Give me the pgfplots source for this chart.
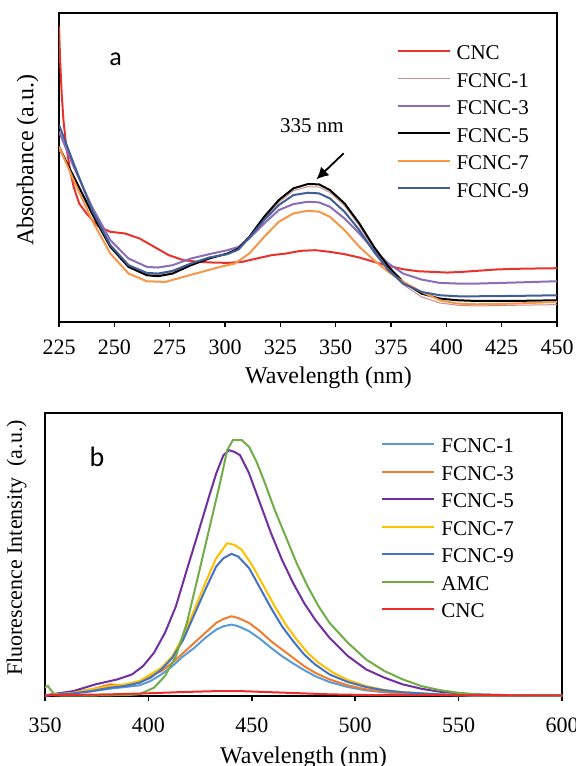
\documentclass[border=0pt]{standalone}
\usepackage{fontspec}
\setmainfont{Liberation Serif}
\newfontfamily\calibri{Carlito}
\usepackage{pgfplots}
\pgfplotsset{compat=1.18}
\usetikzlibrary{arrows.meta}

% panel a colours
\definecolor{cncA}{HTML}{E8322C}
\definecolor{f1A}{HTML}{C9908E}
\definecolor{f3A}{HTML}{8B6DB8}
\definecolor{f7A}{HTML}{F79646}
\definecolor{f9A}{HTML}{3F5E95}
% panel b colours
\definecolor{f1B}{HTML}{5B9BD5}
\definecolor{f3B}{HTML}{ED7D31}
\definecolor{f5B}{HTML}{7030A0}
\definecolor{f7B}{HTML}{FFC000}
\definecolor{f9B}{HTML}{4472C4}
\definecolor{amcB}{HTML}{70AD47}
\definecolor{cncB}{HTML}{EE2C2C}

\pgfplotsset{
  spectrum/.style={
    scale only axis,
    ytick=\empty,
    tick align=outside,
    xtick pos=lower,
    major tick length=2.5pt,
    every tick/.style={black, line width=0.8pt},
    axis line style={line width=1pt},
    /pgf/number format/assume math mode=true,
    xticklabel style={font=\fontsize{11}{13}\selectfont},
    xlabel style={font=\fontsize{12}{14}\selectfont},
    ylabel style={font=\fontsize{12}{14}\selectfont},
    legend cell align=left,
    legend image code/.code={\draw[##1] (0pt,3.3pt) -- (26pt,3.3pt);},
    legend style={draw=none, fill=none, inner sep=0pt, anchor=north west,
      font=\fontsize{10.5}{12}\selectfont, column sep=3pt,
      nodes={inner sep=0pt, text height=8pt, text depth=5.75pt}},
    every axis plot/.append style={line width=1pt},
  },
}

\begin{document}
\begin{tikzpicture}
\useasboundingbox (0,0) rectangle (287.5pt,-383pt);

% ---------- panel a: absorbance ----------
\begin{axis}[spectrum,
  at={(29.5pt,-6.5pt)}, anchor=north west,
  width=249pt, height=154.5pt,
  xmin=225, xmax=450, ymin=0, ymax=925,
  xtick={225,250,...,450},
  xticklabel style={yshift=-2.75pt},
  xlabel={Wavelength (nm)},
  xlabel style={at={(axis description cs:0.541,0)}, anchor=center, yshift=-28pt},
  ylabel={Absorbance (a.u.)},
  ylabel style={at={(axis description cs:-0.0633,0.524)}, anchor=center},
  legend style={at={(axis description cs:0.677,0.902)}},
]
\addplot[cncA] coordinates {
(225,885) (225.5,785) (226.2,685) (227,605) (228.3,525) (230,455) (231.6,405)
(234.1,355) (237.4,325) (241.5,295) (243.2,285) (248.2,270) (254.8,265)
(261.4,250) (268,225) (274.6,200) (281.3,185) (287.9,180) (294.5,178)
(301.1,177) (307.7,180) (314.3,190) (321,200) (327.6,205) (334.2,213)
(340.8,215) (347.4,210) (354,203) (360.7,193) (367.3,180) (373.9,168)
(380.5,158) (387.1,152) (393.8,150) (400.4,148) (407,150) (413.6,153)
(421.9,157) (430.2,159) (438.4,160) (450,161)};
\addlegendentry{CNC}
\addplot[f1A, line width=0.5pt] coordinates {
(225,515) (231.6,440) (239.9,330) (248.2,232) (256.4,172) (264.7,145)
(269.7,142) (276.3,150) (284.6,172) (292.8,190) (301.1,205) (306.1,220)
(311,253) (317.7,310) (324.3,358) (330.9,393) (337.5,405) (342.5,404)
(347.4,388) (354,348) (360.7,288) (367.3,218) (373.9,158) (380.5,112)
(388.8,75) (397.1,57) (405.3,50) (413.6,48) (430.2,50) (450,52)};
\addlegendentry{FCNC-1}
\addplot[f3A] coordinates {
(225,570) (231.6,465) (239.9,345) (248.2,245) (256.4,190) (264.7,165)
(269.7,163) (276.3,170) (284.6,190) (292.8,203) (301.1,215) (306.1,225)
(311,250) (317.7,295) (324.3,335) (330.9,353) (337.5,360) (342.5,358)
(347.4,345) (354,310) (360.7,265) (367.3,215) (373.9,175) (380.5,145)
(388.8,127) (397.1,117) (405.3,115) (413.6,115) (430.2,118) (450,122)};
\addlegendentry{FCNC-3}
\addplot[black] coordinates {
(225,525) (231.6,435) (239.9,325) (248.2,225) (256.4,165) (264.7,140)
(269.7,137) (276.3,145) (284.6,170) (292.8,190) (301.1,205) (306.1,220)
(311,255) (317.7,315) (324.3,365) (330.9,400) (337.5,413) (342.5,412)
(347.4,395) (354,355) (360.7,295) (367.3,225) (373.9,165) (380.5,120)
(388.8,85) (397.1,70) (405.3,65) (413.6,63) (430.2,63) (450,65)};
\addlegendentry{FCNC-5}
\addplot[f7A] coordinates {
(225,525) (231.6,425) (239.9,305) (248.2,205) (256.4,145) (264.7,122)
(273,120) (281.3,135) (289.5,150) (297.8,165) (304.4,175) (311,205)
(317.7,255) (324.3,300) (330.9,325) (337.5,333) (342.5,330) (347.4,315)
(354,275) (360.7,225) (367.3,185) (373.9,150) (380.5,120) (388.8,90)
(397.1,65) (405.3,55) (413.6,53) (430.2,55) (450,60)};
\addlegendentry{FCNC-7}
\addplot[f9A] coordinates {
(225,590) (231.6,475) (239.9,335) (248.2,230) (256.4,170) (264.7,147)
(269.7,145) (276.3,153) (284.6,175) (292.8,193) (301.1,203) (306.1,217)
(311,253) (317.7,305) (324.3,350) (330.9,380) (337.5,387) (342.5,385)
(347.4,370) (354,330) (360.7,275) (367.3,210) (373.9,155) (380.5,115)
(388.8,90) (397.1,80) (405.3,77) (413.6,77) (430.2,78) (450,80)};
\addlegendentry{FCNC-9}
\node[font=\calibri\fontsize{13}{15}\selectfont] at (axis cs:250.6,785) {a};
\node[font=\fontsize{10.5}{12}\selectfont] at (axis cs:339.3,587) {335 nm};
\draw[-{Latex[length=6pt,width=6pt]}, line width=0.9pt]
  (axis cs:353.6,505) -- (axis cs:341.3,427);
\end{axis}

% ---------- panel b: fluorescence ----------
\begin{axis}[spectrum,
  at={(22.5pt,-206.5pt)}, anchor=north west,
  width=258.5pt, height=141.5pt,
  xmin=350, xmax=600, ymin=0, ymax=852,
  xtick={350,400,...,600},
  xticklabel style={yshift=-5pt},
  xlabel={Wavelength (nm)},
  xlabel style={at={(axis description cs:0.5,0)}, anchor=center, yshift=-31pt},
  ylabel={Fluorescence Intensity\ \ (a.u.)},
  ylabel style={font=\fontsize{11}{13}\selectfont,
    at={(axis description cs:-0.0551,0.523)}, anchor=center},
  legend style={at={(axis description cs:0.650,0.917)}},
]
\addplot[f1B] coordinates {
(350,2) (363.8,8) (372.6,14) (381.5,22) (388.6,27) (395.6,32) (401,45)
(406.3,65) (411.6,90) (416.9,120) (422.2,145) (427.5,175) (432.8,200)
(436.3,210) (440.2,215) (443.4,210) (448.7,195) (454,172) (459.3,145)
(464.6,120) (470,98) (475.3,78) (480.6,60) (487.6,42) (496.5,27)
(505.3,17) (514.2,11) (523,7) (540.7,3) (558.4,1) (600,1)};
\addlegendentry{FCNC-1}
\addplot[f3B] coordinates {
(350,2) (363.8,12) (372.6,20) (381.5,35) (388.6,32) (395.6,40) (401,60)
(406.3,75) (411.6,100) (416.9,130) (422.2,160) (427.5,190) (432.8,220)
(436.3,232) (440.2,240) (443.4,235) (448.7,220) (454,195) (459.3,165)
(464.6,140) (470,115) (475.3,90) (480.6,70) (487.6,50) (496.5,32)
(505.3,20) (514.2,13) (523,8) (540.7,4) (558.4,2) (600,1)};
\addlegendentry{FCNC-3}
\addplot[f5B] coordinates {
(350,2) (363.8,15) (374.4,35) (385,50) (392.1,65) (397.4,90) (402.7,130)
(408,190) (413.3,270) (418.6,380) (424,490) (429.3,600) (432.8,670)
(436.3,725) (439,740) (441.6,735) (444.3,725) (448.7,670) (454,580)
(459.3,490) (464.6,410) (470,340) (475.3,280) (480.6,230) (487.6,175)
(496.5,120) (505.3,80) (514.2,55) (523,35) (531.9,22) (540.7,13)
(549.6,8) (558.4,5) (576.1,2) (600,1)};
\addlegendentry{FCNC-5}
\addplot[f7B] coordinates {
(350,2) (363.8,10) (372.6,20) (381.5,30) (388.6,35) (395.6,45) (401,65)
(406.3,85) (411.6,120) (416.9,180) (422.2,260) (427.5,340) (432.8,415)
(436.3,445) (438.1,460) (441.6,455) (445.2,440) (450.5,390) (455.8,330)
(461.1,270) (466.4,215) (471.7,170) (477,130) (482.3,100) (489.4,70)
(496.5,48) (505.3,30) (514.2,18) (523,12) (540.7,5) (558.4,2) (600,1)};
\addlegendentry{FCNC-7}
\addplot[f9B] coordinates {
(350,2) (363.8,8) (372.6,15) (381.5,25) (388.6,30) (395.6,40) (401,55)
(406.3,80) (411.6,115) (416.9,170) (422.2,245) (427.5,320) (432.8,390)
(436.3,415) (440.2,428) (443.4,420) (448.7,385) (454,325) (459.3,265)
(464.6,210) (470,165) (475.3,125) (480.6,95) (487.6,65) (496.5,42)
(505.3,27) (514.2,17) (523,11) (540.7,5) (558.4,2) (600,1)};
\addlegendentry{FCNC-9}
\addplot[amcB] coordinates {
(350,27) (351.4,30) (353.2,15) (355,2) (360,1) (370,1) (380,2) (390,3)
(395.6,5) (402.7,25) (408,60) (413.3,120) (418.6,220) (424,360)
(429.3,500) (434.6,640) (438.1,740) (440.8,770) (445.2,770) (448.7,750)
(452.3,705) (455.8,650) (461.1,560) (466.4,480) (471.7,400) (477,330)
(482.3,270) (487.6,220) (496.5,160) (505.3,110) (514.2,75) (523,50)
(531.9,30) (540.7,18) (549.6,10) (558.4,5) (576.1,2) (600,1)};
\addlegendentry{AMC}
\addplot[cncB] coordinates {
(350,2) (381.5,5) (399.2,8) (416.9,12) (434.6,15) (443.4,15) (452.3,13)
(470,9) (487.6,5) (505.3,3) (600,2)};
\addlegendentry{CNC}
\node[font=\calibri\fontsize{14}{16}\selectfont] at (axis cs:375.1,719) {b};
\end{axis}
\end{tikzpicture}
\end{document}
